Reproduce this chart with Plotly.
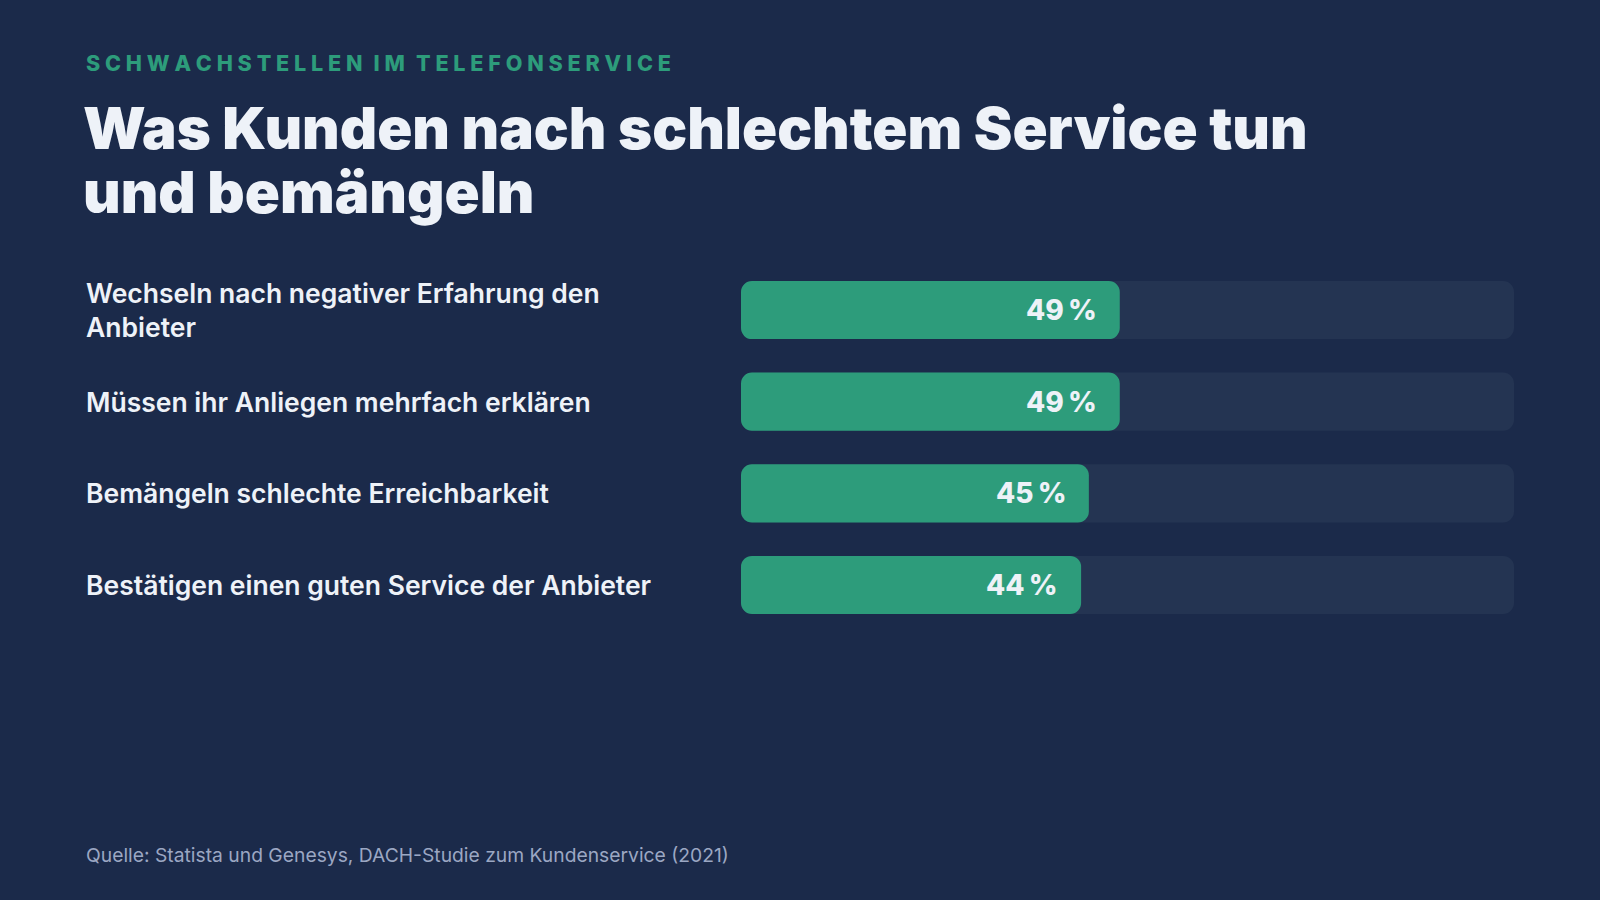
import plotly.graph_objects as go

categories = [
    "Wechseln nach negativer Erfahrung den<br>Anbieter",
    "Müssen ihr Anliegen mehrfach erklären",
    "Bemängeln schlechte Erreichbarkeit",
    "Bestätigen einen guten Service der Anbieter",
]
values = [49, 49, 45, 44]
value_labels = ["49\u2009%", "49\u2009%", "45\u2009%", "44\u2009%"]
track_max = 100

subtitle = "SCHWACHSTELLEN IM TELEFONSERVICE"
title_lines = ["Was Kunden nach schlechtem Service tun", "und bemängeln"]
source = "Quelle: Statista und Genesys, DACH-Studie zum Kundenservice (2021)"

BG = "#1b2a4a"
TRACK = "#243452"
GREEN = "#2d9c7b"
WHITE = "#eef2f8"
FONT = "Inter"

W, H = 1600, 900
ids = list(range(len(categories)))
BW = 0.635

fig = go.Figure()
# floating bars (explicit base) get all four corners rounded
fig.add_trace(go.Bar(
    y=ids, x=[track_max] * len(ids), base=[0] * len(ids), orientation="h",
    marker=dict(color=TRACK, line=dict(width=0)), width=BW,
    hoverinfo="skip", showlegend=False,
))
fig.add_trace(go.Bar(
    y=ids, x=values, base=[0] * len(ids), orientation="h",
    marker=dict(color=GREEN, line=dict(width=0)), width=BW,
    hovertemplate="%{x} %<extra></extra>", showlegend=False,
))

annotations = []
for i, (lab, v, vl) in enumerate(zip(categories, values, value_labels)):
    annotations.append(dict(
        x=84 / W, xref="paper", y=i, yref="y", text=lab, showarrow=False,
        xanchor="left", yanchor="middle", align="left",
        font=dict(family=FONT, size=26.5, color=WHITE, weight=600),
    ))
    annotations.append(dict(
        x=v, xref="x", y=i, yref="y", text=vl, showarrow=False,
        xanchor="right", yanchor="middle", xshift=-21,
        font=dict(family=FONT, size=28, color=WHITE, weight=800),
    ))

spaced = "\u2009\u200a".join(list(subtitle)).replace("\u2009\u200a \u2009\u200a", "\u2009\u2009\u2009\u200a")
annotations.append(dict(
    x=84 / W, xref="paper", y=1 - 63 / H, yref="paper", text=spaced, showarrow=False,
    xanchor="left", yanchor="middle",
    font=dict(family=FONT, size=21.6, color=GREEN, weight=800),
))
for k, (line, yc) in enumerate(zip(title_lines, [128, 192])):
    annotations.append(dict(
        x=81 / W, xref="paper", y=1 - yc / H, yref="paper", text=line, showarrow=False,
        xanchor="left", yanchor="middle",
        font=dict(family=FONT, size=58, color=WHITE, weight=900),
    ))
annotations.append(dict(
    x=84 / W, xref="paper", y=1 - 855 / H, yref="paper", text=source, showarrow=False,
    xanchor="left", yanchor="middle",
    font=dict(family=FONT, size=19.3, color="#9ba7c3", weight=400),
))

fig.update_layout(
    width=W, height=H,
    paper_bgcolor=BG, plot_bgcolor=BG,
    margin=dict(l=0, r=0, t=0, b=0),
    barmode="overlay", barcornerradius=11,
    xaxis=dict(domain=[741 / W, 1514 / W], range=[0, track_max],
               visible=False, fixedrange=True),
    yaxis=dict(domain=[1 - 630.8 / H, 1 - 264.2 / H], range=[3.5, -0.5],
               visible=False, fixedrange=True),
    annotations=annotations,
    font=dict(family=FONT),
)

fig.write_html("out.html", config={"displayModeBar": False})
